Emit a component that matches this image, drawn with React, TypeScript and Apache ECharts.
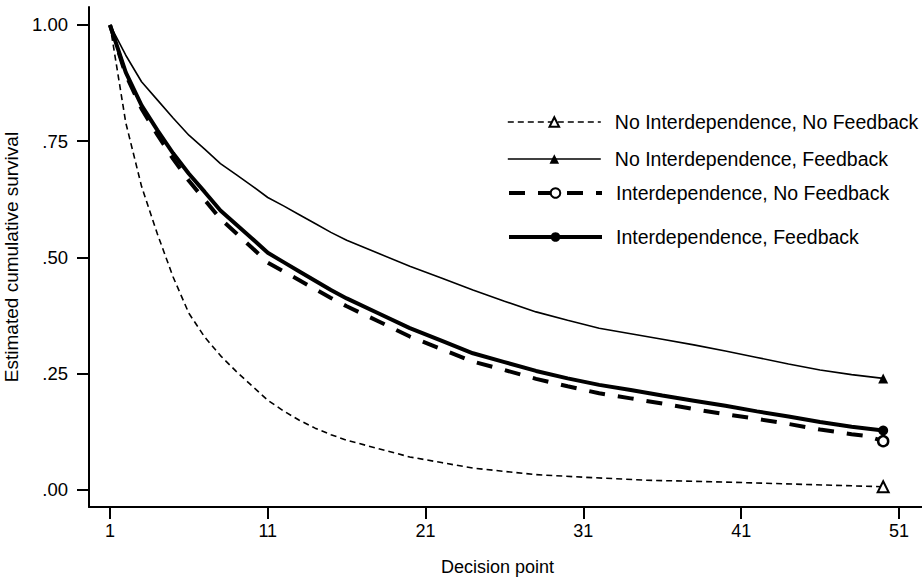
import React, { useEffect, useRef } from "react";
import * as echarts from "echarts";

// Decision points and estimated survival values
const seriesNames = [
  "No Interdependence, No Feedback",
  "No Interdependence, Feedback",
  "Interdependence, No Feedback",
  "Interdependence, Feedback",
];

const dpA = [1, 2, 3, 4, 5, 6, 7, 8, 9, 10, 11, 12, 13, 14, 15, 16, 18, 20, 22, 24, 26, 28, 31, 35, 40, 45, 50];
const valA = [1.0, 0.79, 0.653, 0.551, 0.458, 0.38, 0.329, 0.289, 0.255, 0.224, 0.193, 0.17, 0.15, 0.133, 0.119, 0.107, 0.089, 0.071, 0.059, 0.047, 0.04, 0.033, 0.0275, 0.021, 0.017, 0.012, 0.007];

const dpB = [1, 2, 3, 4, 5, 6, 7, 8, 9, 10, 11, 12, 13, 14, 15, 16, 18, 20, 22, 24, 26, 28, 30, 32, 34, 36, 38, 40, 42, 44, 46, 48, 50];
const valB = [1.0, 0.935, 0.878, 0.839, 0.8, 0.763, 0.733, 0.702, 0.678, 0.654, 0.629, 0.611, 0.592, 0.573, 0.554, 0.537, 0.509, 0.481, 0.456, 0.43, 0.406, 0.383, 0.365, 0.348, 0.336, 0.324, 0.312, 0.299, 0.285, 0.271, 0.258, 0.248, 0.24];

const dpC = [1, 2, 3, 4, 5, 6, 7, 8, 9, 10, 11, 12, 13, 14, 15, 16, 18, 20, 22, 24, 26, 28, 30, 32, 34, 36, 38, 40, 42, 44, 46, 48, 49, 50];
const valC = [1.0, 0.893, 0.82, 0.764, 0.712, 0.665, 0.624, 0.583, 0.552, 0.521, 0.489, 0.47, 0.451, 0.432, 0.413, 0.395, 0.363, 0.33, 0.303, 0.276, 0.258, 0.239, 0.223, 0.208, 0.197, 0.186, 0.174, 0.163, 0.153, 0.142, 0.13, 0.12, 0.116, 0.105];

const dpD = [1, 2, 3, 4, 5, 6, 7, 8, 9, 10, 11, 12, 13, 14, 15, 16, 18, 20, 22, 24, 26, 28, 30, 32, 34, 36, 38, 40, 42, 44, 46, 48, 50];
const valD = [1.0, 0.898, 0.827, 0.774, 0.724, 0.68, 0.641, 0.601, 0.571, 0.541, 0.51, 0.49, 0.47, 0.45, 0.43, 0.412, 0.38, 0.348, 0.321, 0.294, 0.275, 0.256, 0.24, 0.226, 0.215, 0.203, 0.192, 0.181, 0.169, 0.158, 0.146, 0.136, 0.128];

const xTicks = [1, 11, 21, 31, 41, 51];
const yTicks = [0, 0.25, 0.5, 0.75, 1];
const yTickLabels = [".00", ".25", ".50", ".75", "1.00"];

const FONT = "'Liberation Sans', Arial, Helvetica, sans-serif";

function buildData(dps: number[], vals: number[]) {
  return dps.map((d, i) =>
    i === dps.length - 1 ? { value: [d, vals[i]] } : { value: [d, vals[i]], symbol: "none" }
  );
}

export default function App() {
  const ref = useRef<HTMLDivElement>(null);

  useEffect(() => {
    document.body.style.margin = "0";
    if (!ref.current) return;
    const chart = echarts.init(ref.current, null, { renderer: "svg" });

    const legendRows = [112, 149, 183, 227];
    const legends = seriesNames.map((n, i) => ({
      data: [n],
      left: 507,
      top: legendRows[i],
      padding: 0,
      itemWidth: 93,
      itemHeight: 12,
      selectedMode: false,
      lineStyle: { width: "inherit" },
      textStyle: { fontSize: 19.5, fontFamily: FONT, color: "#000", padding: [0, 0, 0, 9] },
    }));

    const option: any = {
      animation: false,
      backgroundColor: "#fff",
      grid: { left: 89, right: 0, top: 7, bottom: 74, outerBoundsMode: "none", containLabel: false },
      legend: legends,
      xAxis: {
        type: "value",
        min: -0.33,
        max: 52.46,
        name: "Decision point",
        nameLocation: "middle",
        nameGap: 51,
        nameTextStyle: { fontSize: 18, fontFamily: FONT, color: "#000", padding: [0, 16, 0, 0] },
        axisLine: { onZero: false, lineStyle: { color: "#000", width: 2 } },
        axisTick: { customValues: xTicks, length: 12, lineStyle: { color: "#000", width: 2 } },
        axisLabel: { customValues: xTicks, margin: 15, fontSize: 18, fontFamily: FONT, color: "#000" },
        splitLine: { show: false },
      },
      yAxis: {
        type: "value",
        min: -0.0366,
        max: 1.0387,
        name: "Estimated cumulative survival",
        nameLocation: "middle",
        nameGap: 54,
        nameTextStyle: { fontSize: 19, fontFamily: FONT, color: "#000" },
        axisLine: { onZero: false, lineStyle: { color: "#000", width: 2 } },
        axisTick: { customValues: yTicks, length: 12, lineStyle: { color: "#000", width: 2 } },
        axisLabel: {
          customValues: yTicks,
          margin: 21,
          fontSize: 18.5,
          fontFamily: FONT,
          color: "#000",
          formatter: (v: number) => {
            const idx = yTicks.findIndex((t) => Math.abs(t - v) < 1e-6);
            return idx >= 0 ? yTickLabels[idx] : "";
          },
        },
        splitLine: { show: false },
      },
      series: [
        {
          name: seriesNames[0],
          type: "line",
          data: buildData(dpA, valA),
          symbol: "triangle",
          symbolSize: 11,
          showAllSymbol: true,
          lineStyle: { color: "#000", width: 1.6, type: [6, 4] },
          itemStyle: { color: "#fff", borderColor: "#000", borderWidth: 2 },
        },
        {
          name: seriesNames[1],
          type: "line",
          data: buildData(dpB, valB),
          symbol: "triangle",
          symbolSize: 10,
          showAllSymbol: true,
          lineStyle: { color: "#000", width: 1.6 },
          itemStyle: { color: "#000", borderColor: "#000", borderWidth: 0 },
        },
        {
          name: seriesNames[2],
          type: "line",
          data: buildData(dpC, valC),
          symbol: "circle",
          symbolSize: 10,
          showAllSymbol: true,
          lineStyle: { color: "#000", width: 4, type: [16, 13] },
          itemStyle: { color: "#fff", borderColor: "#000", borderWidth: 2.5 },
        },
        {
          name: seriesNames[3],
          type: "line",
          data: buildData(dpD, valD),
          symbol: "circle",
          symbolSize: 10,
          showAllSymbol: true,
          lineStyle: { color: "#000", width: 4 },
          itemStyle: { color: "#000", borderColor: "#000", borderWidth: 0 },
        },
      ],
    };

    chart.setOption(option);
    return () => chart.dispose();
  }, []);

  return <div ref={ref} style={{ width: 922, height: 581 }} />;
}
